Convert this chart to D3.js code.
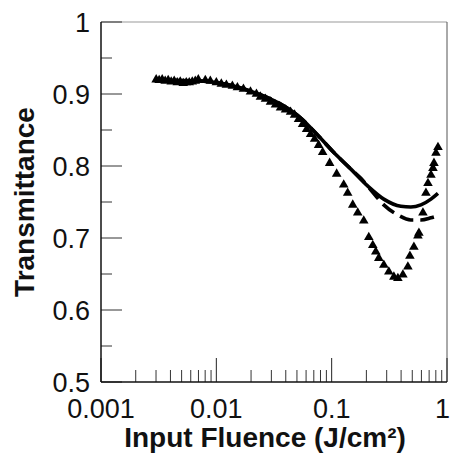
<!DOCTYPE html>
<html><head><meta charset="utf-8">
<script src="https://cdn.jsdelivr.net/npm/d3@7"></script>
<style>
html,body{margin:0;padding:0;background:#fff;overflow:hidden;}
svg{display:block;}
</style></head>
<body>
<svg id="c" width="451" height="453"></svg>
<script>
// Measured data (Input fluence J/cm^2, transmittance)
const measF = [0.003008,0.003193,0.003391,0.003602,0.003824,0.004061,0.004313,0.00458,0.004864,0.005164,0.005485,0.005824,0.006185,0.006568,
  0.006975,0.008024,0.008867,0.01,0.01105,0.01222,0.01377,0.01523,0.01717,0.01977,0.02228,
  0.02413,0.02668,0.02949,0.0326,0.03602,0.03981,0.04401,0.04768,0.05164,0.05595,0.06062,0.06568,0.07116,0.07709,
  0.08352,0.09608,0.1105,0.1272,0.1377,0.1523,0.1683,0.1898,0.2098,0.2273,0.2413,0.2563,0.2834,0.3131,0.3462,0.375,
  0.4144,0.458,0.4768,0.5164,0.5595,0.5708,0.6185,0.6568,0.6839,0.7262,0.7556,0.7709,0.8024,0.8352];
const measT = [0.920,0.919,0.920,0.918,0.919,0.917,0.918,0.916,0.917,0.915,0.916,0.916,0.917,0.918,
  0.920,0.919,0.918,0.916,0.914,0.9125,0.911,0.909,0.907,0.903,0.900,
  0.896,0.893,0.889,0.885,0.881,0.878,0.875,0.871,0.865,0.858,0.851,0.844,0.8375,0.829,
  0.819,0.804,0.789,0.774,0.7625,0.746,0.735,0.724,0.701,0.690,0.681,0.672,0.6625,0.653,0.646,0.644,
  0.649,0.660,0.675,0.6875,0.703,0.707,0.735,0.7625,0.776,0.7875,0.797,0.804,0.818,0.826];

// Solid model curve
const solidF = [0.00295,0.00726,0.0198,0.0361,0.0537,0.0755,0.104,0.146,0.206,0.283,0.398,0.486,0.594,0.726,0.835];
const solidT = [0.919,0.918,0.904,0.886,0.867,0.843,0.819,0.796,0.772,0.754,0.744,0.743,0.746,0.754,0.762];

// Dashed model curve
const dashF = [0.00295,0.00726,0.0198,0.0361,0.0537,0.0755,0.104,0.146,0.179,0.218,0.283,0.375,0.486,0.594,0.726,0.802];
const dashT = [0.919,0.918,0.904,0.886,0.867,0.843,0.819,0.796,0.783,0.767,0.746,0.732,0.725,0.725,0.728,0.730];

const xTickVals = [0.001,0.01,0.1,1];
const xTickLabels = ["0.001","0.01","0.1","1"];
const yTickVals = [0.5,0.6,0.7,0.8,0.9,1];
const yTickLabels = ["0.5","0.6","0.7","0.8","0.9","1"];

const svg = d3.select("#c");
const L = 101, R = 447, T = 22, B = 382;
const x = d3.scaleLog().domain([0.001,1]).range([L,R]);
const y = d3.scaleLinear().domain([0.5,1]).range([B,T]);
const FONT = "Liberation Sans, Arial, sans-serif";

// frame (top & right)
svg.append("line").attr("x1",L).attr("x2",R).attr("y1",T).attr("y2",T).attr("stroke","#999").attr("stroke-width",1);
svg.append("line").attr("x1",R).attr("x2",R).attr("y1",T).attr("y2",B).attr("stroke","#555").attr("stroke-width",1);

// x minor ticks
const minorX = [];
[0.001,0.01,0.1].forEach(d=>{for(let k=2;k<=9;k++) minorX.push(d*k);});
const gx = svg.append("g");
gx.selectAll("line.mn").data(minorX).join("line")
  .attr("x1",d=>x(d)).attr("x2",d=>x(d)).attr("y1",B).attr("y2",B-12)
  .attr("stroke","#333").attr("stroke-width",1);
gx.selectAll("line.mj").data(xTickVals).join("line")
  .attr("x1",d=>x(d)).attr("x2",d=>x(d)).attr("y1",B).attr("y2",B-24)
  .attr("stroke","#222").attr("stroke-width",1);
gx.selectAll("text").data(xTickVals).join("text")
  .attr("x",(d,i)=> i===xTickVals.length-1 ? 450 : x(d))
  .attr("y",418)
  .attr("text-anchor",(d,i)=> i===xTickVals.length-1 ? "end" : "middle")
  .attr("font-family",FONT).attr("font-size",27)
  .attr("fill","#111").text((d,i)=>xTickLabels[i]);

// y ticks
const minorY = [0.55,0.65,0.75,0.85,0.95];
const gy = svg.append("g");
gy.selectAll("line.mn").data(minorY).join("line")
  .attr("x1",L).attr("x2",L+11).attr("y1",d=>y(d)).attr("y2",d=>y(d))
  .attr("stroke","#333").attr("stroke-width",1);
gy.selectAll("line.mj").data(yTickVals).join("line")
  .attr("x1",L).attr("x2",L+21).attr("y1",d=>y(d)).attr("y2",d=>y(d))
  .attr("stroke","#333").attr("stroke-width",1);
gy.selectAll("text").data(yTickVals).join("text")
  .attr("x",90).attr("y",d=>y(d)+9.5).attr("text-anchor","end")
  .attr("font-family",FONT).attr("font-size",27)
  .attr("fill","#111").text((d,i)=>yTickLabels[i]);

// axis lines
svg.append("line").attr("x1",L).attr("x2",L).attr("y1",T).attr("y2",B).attr("stroke","#111").attr("stroke-width",1.5);
svg.append("line").attr("x1",L).attr("x2",R).attr("y1",B).attr("y2",B).attr("stroke","#111").attr("stroke-width",1.5);

// curves
const line = d3.line().x(d=>x(d[0])).y(d=>y(d[1])).curve(d3.curveMonotoneX);
svg.append("path").datum(solidF.map((f,i)=>[f,solidT[i]]))
  .attr("d",line).attr("fill","none").attr("stroke","#000").attr("stroke-width",3.6);
svg.append("path").datum(dashF.map((f,i)=>[f,dashT[i]]))
  .attr("d",line).attr("fill","none").attr("stroke","#000").attr("stroke-width",3.6)
  .attr("stroke-dasharray","14,7");

// triangles
const tri = d3.symbol().type(d3.symbolTriangle).size(40);
svg.selectAll("path.pt").data(measF.map((f,i)=>[f,measT[i]])).join("path")
  .attr("class","pt").attr("d",tri)
  .attr("transform",d=>`translate(${x(d[0])},${y(d[1])})`).attr("fill","#000");

// axis titles
svg.append("text").attr("transform","translate(34,202) rotate(-90)")
  .attr("text-anchor","middle").attr("font-family",FONT)
  .attr("font-weight","bold").attr("font-size",28).attr("fill","#111").text("Transmittance");
svg.append("text").attr("x",265).attr("y",447)
  .attr("text-anchor","middle").attr("font-family",FONT)
  .attr("font-weight","bold").attr("font-size",28).attr("fill","#111").text("Input Fluence (J/cm²)");
</script>
</body></html>
